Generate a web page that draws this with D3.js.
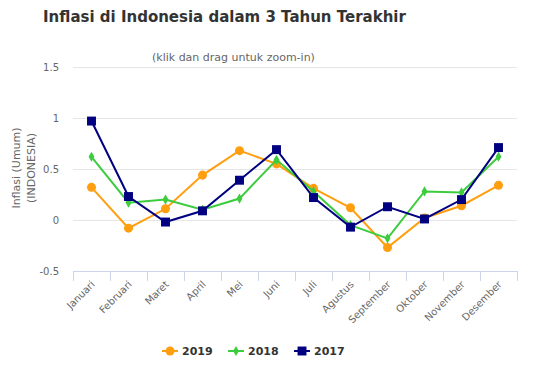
<!DOCTYPE html>
<html>
<head>
<meta charset="utf-8">
<script src="https://cdn.jsdelivr.net/npm/d3@7"></script>
<style>
  body { margin: 0; background: #fff; }
  text { font-family: "DejaVu Sans", sans-serif; }
</style>
</head>
<body>
<div id="chart"></div>
<script>
// data
const bulan = ["Januari", "Februari", "Maret", "April", "Mei", "Juni", "Juli",
  "Agustus", "September", "Oktober", "November", "Desember"];
const inflasi2019 = [0.32, -0.08, 0.11, 0.44, 0.68, 0.55, 0.31, 0.12, -0.27, 0.02, 0.14, 0.34];
const inflasi2018 = [0.62, 0.17, 0.20, 0.10, 0.21, 0.59, 0.28, -0.05, -0.18, 0.28, 0.27, 0.62];
const inflasi2017 = [0.97, 0.23, -0.02, 0.09, 0.39, 0.69, 0.22, -0.07, 0.13, 0.01, 0.20, 0.71];
const yTicks = [-0.5, 0, 0.5, 1, 1.5];
const tahun = ["2019", "2018", "2017"];

const width = 541, height = 379;
const kiri = 73, kanan = 517, atas = 67, bawah = 271;

const svg = d3.select("#chart").append("svg")
  .attr("width", width)
  .attr("height", height);

const x = d3.scaleBand().domain(bulan).range([kiri, kanan]);
const y = d3.scaleLinear().domain([-0.5, 1.5]).range([bawah, atas]);

// judul
svg.append("text")
  .attr("x", 43).attr("y", 22)
  .attr("font-size", 15).attr("font-weight", "bold")
  .attr("fill", "#333")
  .text("Inflasi di Indonesia dalam 3 Tahun Terakhir");

svg.append("text")
  .attr("x", 152).attr("y", 61)
  .attr("font-size", 11).attr("fill", "#666")
  .text("(klik dan drag untuk zoom-in)");

// grid
svg.append("g").selectAll("line")
  .data(yTicks).enter().append("line")
  .attr("x1", kiri).attr("x2", kanan)
  .attr("y1", d => y(d) + 0.5).attr("y2", d => y(d) + 0.5)
  .attr("stroke", "#e6e6e6");

// sumbu y
const yAxis = svg.append("g")
  .attr("transform", `translate(${kiri},0)`)
  .call(d3.axisLeft(y).tickValues(yTicks).tickSize(0).tickPadding(14)
    .tickFormat(d => d === 0 ? "0" : String(d)));
yAxis.select(".domain").remove();
yAxis.selectAll("text").attr("font-size", 10).attr("fill", "#666")
  .style("font-family", "DejaVu Sans, sans-serif");

// judul sumbu y
const yt = svg.append("text")
  .attr("transform", "translate(20,168) rotate(-90)")
  .attr("text-anchor", "middle")
  .attr("font-size", 11).attr("fill", "#666");
yt.append("tspan").attr("x", 0).attr("dy", 0).text("Inflasi (Umum)");
yt.append("tspan").attr("x", 0).attr("dy", 15).text("(INDONESIA)");

// sumbu x
const xAxis = svg.append("g")
  .attr("transform", `translate(0,${bawah})`)
  .call(d3.axisBottom(x).tickSize(0).tickFormat(""));
xAxis.select(".domain").attr("stroke", "#ccd6eb").attr("d", `M${kiri},0.5H${kanan}`);
xAxis.selectAll(".tick").remove();

const batas = bulan.map(b => x(b)).concat([kanan]);
svg.append("g").selectAll("line")
  .data(batas).enter().append("line")
  .attr("x1", d => Math.round(d) + 0.5).attr("x2", d => Math.round(d) + 0.5)
  .attr("y1", bawah).attr("y2", bawah + 10)
  .attr("stroke", "#ccd6eb");

svg.append("g").selectAll("text")
  .data(bulan).enter().append("text")
  .attr("transform", d => `translate(${x(d) + x.bandwidth() / 2 + 4},${bawah + 14}) rotate(-45)`)
  .attr("text-anchor", "end")
  .attr("font-size", 10).attr("fill", "#666")
  .text(d => d);

// seri
const seri = [
  { nama: "2019", data: inflasi2019, warna: "#ff9f10", simbol: d3.symbolCircle, ukuran: 64 },
  { nama: "2018", data: inflasi2018, warna: "#3dcc3d", simbol: d3.symbolDiamond, ukuran: 30 },
  { nama: "2017", data: inflasi2017, warna: "#000080", simbol: d3.symbolSquare, ukuran: 80 }
];

const garis = d3.line()
  .x((d, i) => x(bulan[i]) + x.bandwidth() / 2)
  .y(d => y(d));

seri.forEach(s => {
  svg.append("path")
    .datum(s.data)
    .attr("d", garis)
    .attr("fill", "none")
    .attr("stroke", s.warna)
    .attr("stroke-width", 2);
  svg.append("g").selectAll("path")
    .data(s.data).enter().append("path")
    .attr("d", d3.symbol().type(s.simbol).size(s.ukuran))
    .attr("transform", (d, i) => `translate(${x(bulan[i]) + x.bandwidth() / 2},${y(d)})`)
    .attr("fill", s.warna);
});

// legenda
const legX = [162, 228, 294];
const leg = svg.append("g").selectAll("g")
  .data(seri).enter().append("g")
  .attr("transform", (d, i) => `translate(${legX[i]},351)`);
leg.append("line")
  .attr("x1", 0).attr("x2", 16)
  .attr("stroke", d => d.warna).attr("stroke-width", 2);
leg.append("path")
  .attr("d", d => d3.symbol().type(d.simbol).size(d.ukuran)())
  .attr("transform", "translate(8,0)")
  .attr("fill", d => d.warna);
leg.append("text")
  .attr("x", 20).attr("y", 4)
  .attr("font-size", 11).attr("font-weight", "bold").attr("fill", "#333")
  .text(d => d.nama);
</script>
</body>
</html>
